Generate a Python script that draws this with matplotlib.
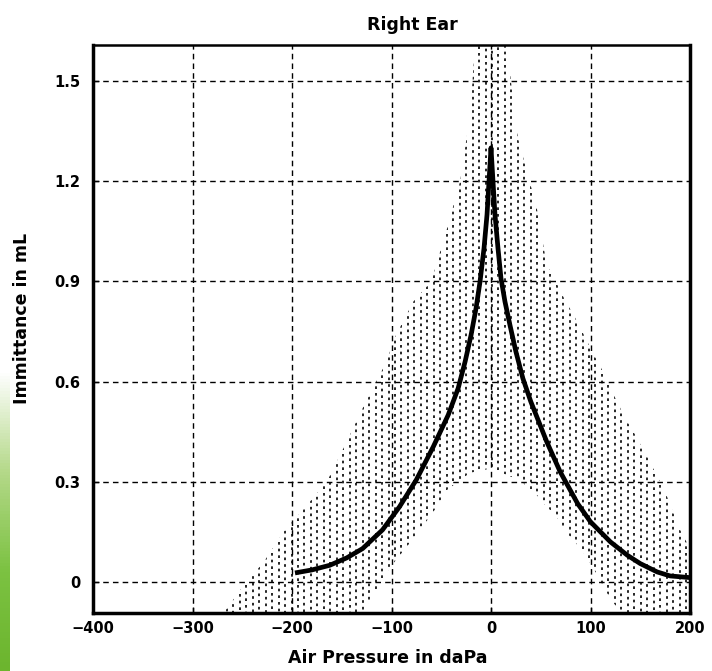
import numpy as np
import matplotlib
matplotlib.use("Agg")
import matplotlib.pyplot as plt
from matplotlib.patches import Polygon
from matplotlib.colors import LinearSegmentedColormap

# ---- data ----
title = "Right Ear"
x_label = "Air Pressure in daPa"
y_label = "Immittance in mL"

x_ticks = [-400, -300, -200, -100, 0, 100, 200]
x_tick_labels = ["\u2212400", "\u2212300", "\u2212200", "\u2212100", "0", "100", "200"]
y_ticks = [0, 0.3, 0.6, 0.9, 1.2, 1.5]
y_tick_labels = ["0", "0.3", "0.6", "0.9", "1.2", "1.5"]
x_grid = [-300, -200, -100, 0, 100]

# mean tympanogram (thick curve)
curve_x = [-197, -180, -162, -145, -129, -109, -92, -75, -58, -43, -33, -26, -20, -15, -11, -7, -4, -2, 0,
           2, 4, 7, 10, 14, 19, 25, 32, 40, 48, 56, 69.5, 87, 100, 120, 137, 150, 167, 180, 200]
curve_y = [0.027, 0.036, 0.05, 0.072, 0.10, 0.156, 0.225, 0.306, 0.405, 0.50, 0.58, 0.66, 0.74, 0.82, 0.90, 1.00, 1.10, 1.20, 1.30,
           1.20, 1.10, 1.00, 0.91, 0.84, 0.77, 0.69, 0.61, 0.54, 0.48, 0.42, 0.33, 0.235, 0.18, 0.12, 0.08, 0.055, 0.03, 0.018, 0.013]

# envelope of the individual tympanograms (dotted region)
env_x = [-268, -246, -229, -207, -185, -165, -145, -129, -105, -97, -78, -72, -60,
         -44, -31, -21, -16, 0, 16, 20, 27, 46, 56, 65, 75, 83, 95, 107, 110,
         120, 130, 133, 145, 157, 175, 190, 200]
env_upper = [-0.09, 0.0, 0.057, 0.156, 0.23, 0.30, 0.42, 0.52, 0.66, 0.73, 0.84, 0.86, 0.90,
             1.06, 1.20, 1.40, 1.61, 1.61, 1.61, 1.50, 1.33, 1.12, 0.95, 0.90, 0.84, 0.80, 0.73, 0.66, 0.645,
             0.58, 0.52, 0.50, 0.44, 0.375, 0.27, 0.156, 0.10]
env_lower = [-0.09, -0.09, -0.09, -0.09, -0.09, -0.09, -0.09, -0.09, 0.027, 0.06, 0.13, 0.156, 0.20,
             0.276, 0.305, 0.327, 0.33, 0.34, 0.32, 0.315, 0.31, 0.26, 0.225, 0.20, 0.15, 0.125, 0.08, 0.02, 0.0,
             -0.05, -0.09, -0.09, -0.09, -0.09, -0.09, -0.09, -0.09]

plt.rcParams['font.family'] = ['DejaVu Sans']

fig = plt.figure(figsize=(7.12, 6.71), dpi=100)
ax = fig.add_axes([93 / 712, 1 - 613 / 671, 597 / 712, 568 / 671])

ax.set_xlim(-400, 200)
ax.set_ylim(-0.093, 1.608)

# grid
for gx in x_grid:
    ax.axvline(gx, color='black', lw=1.0, ls=(0, (4, 3)), zorder=1)
for gy in y_ticks:
    ax.axhline(gy, color='black', lw=1.0, ls=(0, (4, 3)), zorder=1)

# dotted region: vertical dotted texture clipped to the envelope polygon
verts = list(zip(env_x, env_upper)) + list(zip(env_x[::-1], env_lower[::-1]))
poly = Polygon(verts, closed=True, fill=False, edgecolor='none', transform=ax.transData)
ax.add_patch(poly)
tex_x = np.arange(-272, 201, 6.5)
phases = [0.0, 1.4, 2.7, 0.6, 3.2, 1.9, 0.3, 2.3]
styles = [(phases[i % len(phases)], (1.6, 2.4)) for i in range(len(tex_x))]
vl = ax.vlines(tex_x, -0.2, 1.7, colors='black', linewidths=1.2,
               linestyles=styles, zorder=2)
vl.set_clip_path(poly)

# mean curve
ax.plot(curve_x, curve_y, color='black', lw=3.4, solid_capstyle='butt',
        solid_joinstyle='round', zorder=3)

ax.set_xticks(x_ticks)
ax.set_xticklabels(x_tick_labels)
ax.set_yticks(y_ticks)
ax.set_yticklabels(y_tick_labels)
ax.tick_params(direction='in', length=4, width=1, labelsize=10.5, pad=9)
for lab in ax.get_xticklabels() + ax.get_yticklabels():
    lab.set_fontweight('bold')
ax.tick_params(axis='x', pad=6)

for s in ['left', 'bottom', 'right']:
    ax.spines[s].set_linewidth(2.5)
ax.spines['top'].set_linewidth(1.8)

ax.set_title(title, fontsize=12.5, fontweight='bold', x=(412 - 93) / 597, pad=11)
ax.set_xlabel(x_label, fontsize=12.5, fontweight='bold')
ax.xaxis.set_label_coords((388 - 93) / 597, (613 - 649) / 568)
ax.set_ylabel(y_label, fontsize=12.5, fontweight='bold')
ax.yaxis.set_label_coords((31 - 93) / 597, (613 - 318) / 568)

# green strip at the left edge of the scan
gax = fig.add_axes([0, 0, 10 / 712, (671 - 370) / 671])
grad = np.linspace(0, 1, 100).reshape(-1, 1)
cmap = LinearSegmentedColormap.from_list('g', ['#ffffff', '#b5d98a', '#7cc242', '#6cb52e'])
gax.imshow(grad, aspect='auto', cmap=cmap, origin='upper')
gax.axis('off')

fig.savefig('out.png', dpi=100)
